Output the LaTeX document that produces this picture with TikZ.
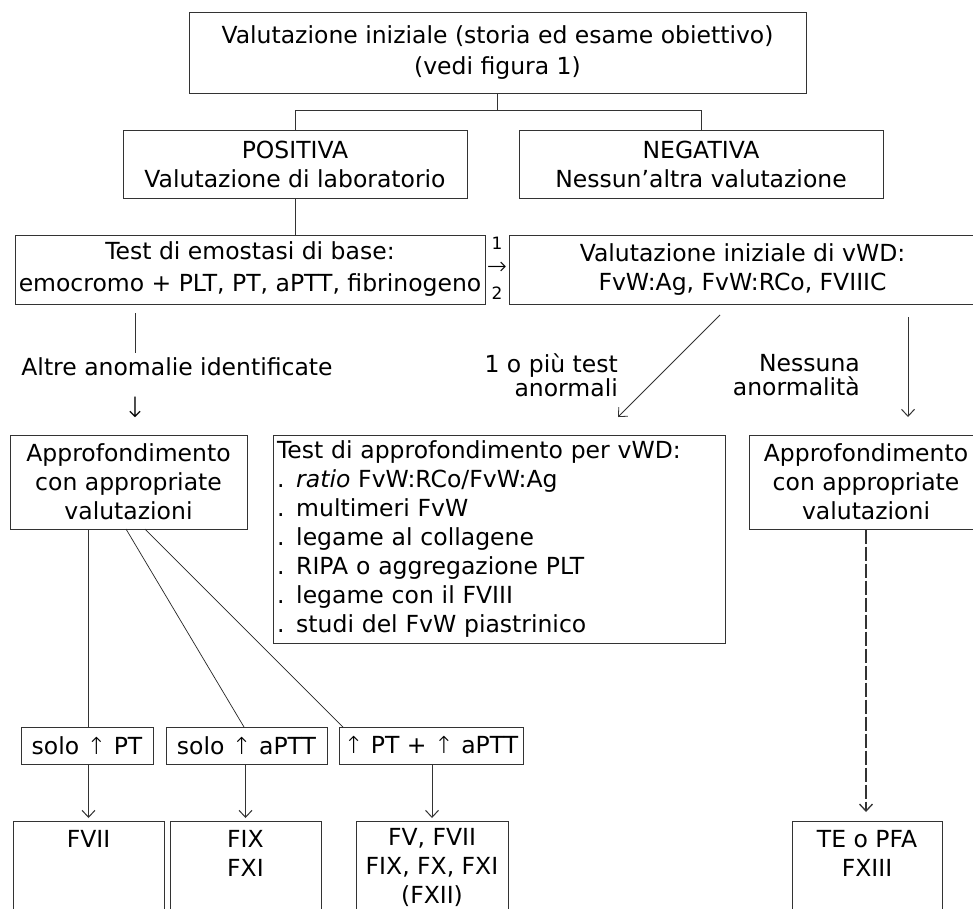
\documentclass[tikz,border=0pt]{standalone}
\usepackage{fontspec}
\setmainfont{DejaVu Sans}
\newfontfamily\arrowfont{DejaVu Sans ExtraLight}
\newcommand{\upar}{{\arrowfont ↑}}
\usetikzlibrary{arrows.meta}
\begin{document}
\begin{tikzpicture}[x=1pt,y=-1pt,
  every node/.style={font=\fontsize{23.5}{29}\selectfont, inner sep=0pt},
  box/.style={draw=black!80, line width=1pt, align=center},
  ln/.style={draw=black!80, line width=1pt},
  thinln/.style={draw=black!85, line width=0.7pt},
  arr/.style={ln, -{Straight Barb[length=7pt,width=13pt]}},
  txt/.style={align=center},
]
\clip (0,0) rectangle (973,908);
\fill[white] (0,0) rectangle (973,908);

% top level
\node[box, minimum width=617, minimum height=81] (top) at (497.5,52.5)
  {Valutazione iniziale (storia ed esame obiettivo)\\[2pt](vedi figura 1)};
\node[box, minimum width=344, minimum height=68] (pos) at (295,164)
  {POSITIVA\\Valutazione di laboratorio};
\node[box, minimum width=364, minimum height=68] (neg) at (701,164)
  {NEGATIVA\\Nessun’altra valutazione};
\draw[ln] (top.south) -- ++(0,17) -| (pos.north);
\draw[ln] (top.south) -- ++(0,17) -| (neg.north);

% second level
\node[box, minimum width=470, minimum height=69] (test) at (250,269.5)
  {Test di emostasi di base:\\[3pt]emocromo + PLT, PT, aPTT, fibrinogeno};
\node[box, minimum width=467, minimum height=69] (vwd) at (742.5,269.5)
  {Valutazione iniziale di vWD:\\FvW:Ag, FvW:RCo, FVIIIC};
\draw[ln] (pos.south) -- (pos.south |- test.north);
\node[align=center, font=\fontsize{17}{25}\selectfont] (num) at (497,268) {1\\{\arrowfont\fontsize{24}{25}\selectfont →}\\2};

% left branch
\coordinate (l1) at (135,313);
\coordinate (l2) at (135,353);
\draw[ln] (l1) -- (l2);
\node (altre) at (177,367) {Altre anomalie identificate};
\node[font=\arrowfont\fontsize{28}{29}\selectfont] (dnarrow) at (135,407) {↓};

% vWD branches
\coordinate (d1) at (720,315);
\coordinate (d2) at (618,417);
\draw[arr, line width=0.8pt] (d1) -- (d2);
\node[align=right, font=\fontsize{23.5}{24}\selectfont, anchor=east] (piu) at (618,375) {1 o più test\\anormali};
\coordinate (r1) at (908,317);
\coordinate (r2) at (908,417);
\draw[arr] (r1) -- (r2);
\node[align=right, font=\fontsize{23.5}{24}\selectfont, anchor=east] (nessuna) at (860,375) {Nessuna\\anormalità};

% third level
\node[box, minimum width=237, minimum height=94] (apl) at (128.5,482)
  {Approfondimento\\con appropriate\\valutazioni};
\node[box, align=left, text width=444, minimum width=452, minimum height=208] (tap) at (499,539)
  {Test di approfondimento per vWD:\\. \textit{ratio} FvW:RCo/FvW:Ag\\. multimeri FvW\\. legame al collagene\\. RIPA o aggregazione PLT\\. legame con il FVIII\\. studi del FvW piastrinico};
\node[box, minimum width=234, minimum height=94] (apr) at (866,482)
  {Approfondimento\\con appropriate\\valutazioni};

% solo boxes
\node[box, minimum width=132, minimum height=37] (s1) at (87,745.5) {solo \upar{} PT};
\node[box, minimum width=161, minimum height=37] (s2) at (246.5,745.5) {solo \upar{} aPTT};
\node[box, minimum width=184, minimum height=37] (s3) at (431,745.5) {\upar{} PT + \upar{} aPTT};

\coordinate (a1) at (88,529);
\coordinate (a2) at (126,529);
\coordinate (a3) at (145,529);
\coordinate (e2) at (244,727);
\coordinate (e3) at (343,727);
\draw[ln] (a1) -- (a1 |- s1.north);
\draw[thinln] (a2) -- (e2);
\draw[thinln] (a3) -- (e3);

% bottom boxes
\node[box, anchor=north, minimum width=151, minimum height=140] (b1) at (88.5,821) {};
\node[box, anchor=north, minimum width=151, minimum height=140] (b2) at (245.5,821) {};
\node[box, anchor=north, minimum width=152, minimum height=140] (b3) at (432,821) {};
\node[box, anchor=north, minimum width=150, minimum height=140] (b4) at (867,821) {};
\node[txt, anchor=north] (t1) at (88.5,830) {FVII};
\node[txt, anchor=north] (t2) at (245.5,830) {FIX\\FXI};
\node[txt, anchor=north] (t3) at (432,828) {FV, FVII\\FIX, FX, FXI\\(FXII)};
\node[txt, anchor=north] (t4) at (867,830) {TE o PFA\\FXIII};

\draw[arr, shorten >=3pt] (s1.south -| b1.north) -- (b1.north);
\draw[arr, shorten >=3pt] (s2.south -| b2.north) -- (b2.north);
\draw[arr, shorten >=3pt] (s3.south -| b3.north) -- (b3.north);
\draw[arr, line width=1.3pt, dash pattern=on 14pt off 3pt, shorten >=9pt] (apr.south) -- (apr.south |- b4.north);
\end{tikzpicture}
\end{document}
